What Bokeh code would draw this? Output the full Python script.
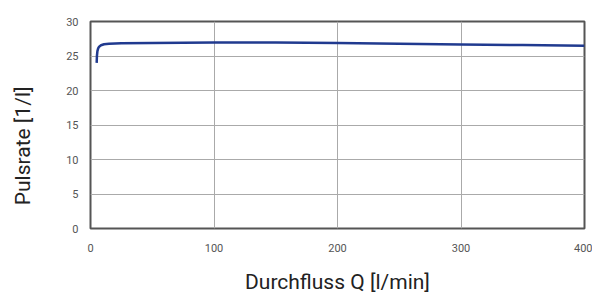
from bokeh.plotting import figure
from bokeh.models import Range1d, FixedTicker
from bokeh.embed import file_html
from bokeh.resources import INLINE

# Data
flow = [5, 5.2, 5.6, 6.2, 7, 8.5, 11, 15, 25, 50, 100, 150, 200, 250, 300, 350, 400]
pulse = [24.0, 25.0, 25.7, 26.1, 26.35, 26.55, 26.7, 26.78, 26.85, 26.9, 26.95, 26.95,
         26.87, 26.78, 26.68, 26.58, 26.47]
x_ticks = [0, 100, 200, 300, 400]
y_ticks = [0, 5, 10, 15, 20, 25, 30]
x_label = "Durchfluss Q [l/min]"
y_label = "Pulsrate [1/l]"

p = figure(width=592, height=296, output_backend="svg", toolbar_location=None,
           x_range=Range1d(0, 400), y_range=Range1d(0, 30),
           min_border_left=90, min_border_right=8, min_border_top=21, min_border_bottom=61)

p.line(flow, pulse, line_color="#203a8f", line_width=2.5)

p.outline_line_color = "#555555"
p.outline_line_width = 2
p.background_fill_color = "white"
p.border_fill_color = "white"

for ax in (p.xaxis[0], p.yaxis[0]):
    ax.axis_line_color = None
    ax.major_tick_line_color = None
    ax.minor_tick_line_color = None
    ax.major_tick_out = 0
    ax.major_tick_in = 0
    ax.minor_tick_out = 0
    ax.minor_tick_in = 0
    ax.major_label_text_font = "Roboto"
    ax.major_label_text_font_size = "11px"
    ax.major_label_text_color = "#555555"
    ax.axis_label_text_font = "Roboto"
    ax.axis_label_text_font_size = "21px"
    ax.axis_label_text_font_style = "normal"
    ax.axis_label_text_color = "#222222"

p.xaxis.ticker = FixedTicker(ticks=x_ticks)
p.yaxis.ticker = FixedTicker(ticks=y_ticks)
p.xaxis.major_label_standoff = 15
p.yaxis.major_label_standoff = 12

p.xaxis.axis_label = x_label
p.xaxis.axis_label_standoff = 15

# trailing no-break spaces shift the centred label down along the axis, as in the reference
p.yaxis.axis_label = y_label + "\u00a0" * 8
p.yaxis.axis_label_standoff = 28

p.grid.grid_line_color = "#aaaaaa"
p.grid.grid_line_width = 1

open("out.html", "w").write(file_html(p, INLINE))
